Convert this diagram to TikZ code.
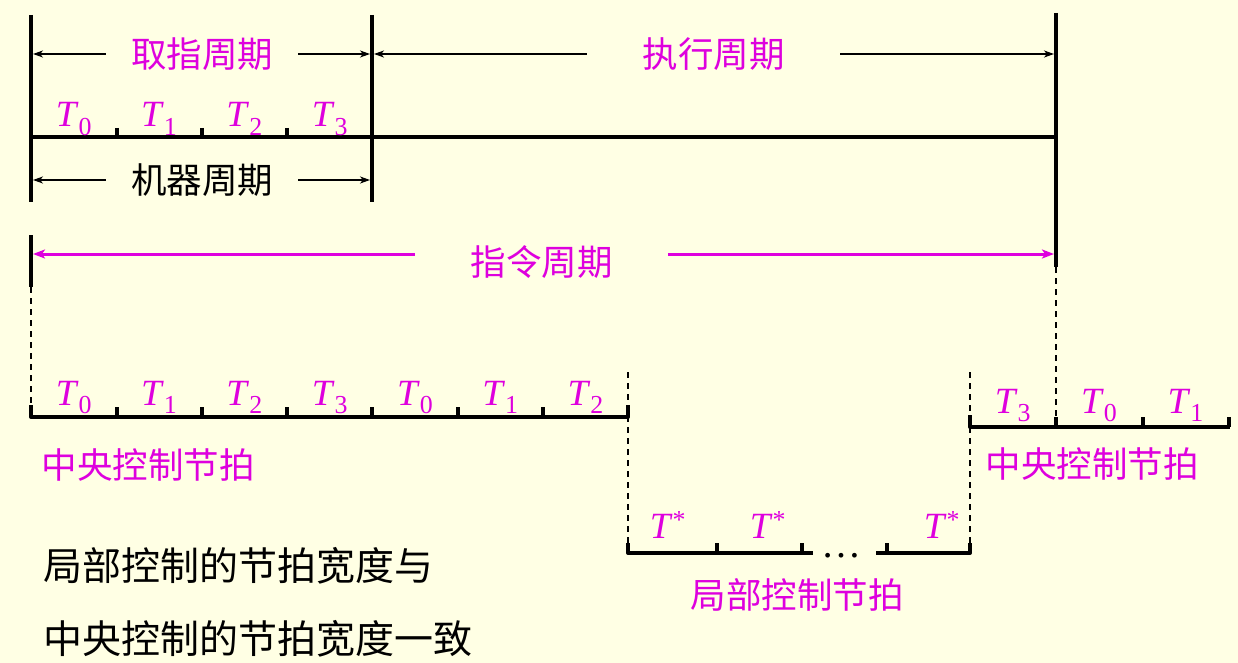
\documentclass[tikz,border=0pt]{standalone}
\usepackage{fontspec}
\setmainfont{Liberation Serif}
\newfontfamily\cjk{Noto Sans CJK SC}
\usetikzlibrary{arrows.meta}
\definecolor{bgyellow}{RGB}{255,255,228}
\definecolor{pinkm}{RGB}{222,0,222}
\newcommand{\Tn}[1]{\textit{T}\textsubscript{#1}}
\newcommand{\Ts}{\textit{T}\textsuperscript{*}}
\begin{document}
\begin{tikzpicture}[x=1pt,y=-1pt,line join=round,
		bar/.style={line width=4pt},
		axis/.style={line width=4pt},
		tick/.style={line width=3.2pt},
		guide/.style={line width=1.4pt,dash pattern=on 6pt off 5pt},
		arr/.style={-{Stealth[length=10pt,width=7pt,inset=3pt]},line width=2pt,shorten >=2pt},
		marr/.style={-{Stealth[length=12pt,width=9pt,inset=3pt]},line width=3pt,draw=pinkm,shorten >=2pt},
		tlab/.style={text=pinkm,font=\fontsize{37}{37}\selectfont,anchor=base,inner sep=0pt},
		clab/.style={text=pinkm,font=\cjk\fontsize{35.5}{36}\selectfont,inner sep=0pt},
		note/.style={font=\cjk\fontsize{39}{40}\selectfont,anchor=west,inner sep=0pt}]
				\fill[bgyellow] (0,0) rectangle (1238,663);
				\useasboundingbox (0,0) rectangle (1238,663);
				\def\ya{137}\def\yb{417}\def\yc{427}\def\yd{553}
				\coordinate (L) at (31,\ya); \coordinate (M) at (372,\ya); \coordinate (R) at (1056,\ya);
				\coordinate (iL) at (31,254); \coordinate (iR) at (1056,254);
				\coordinate (cA) at (31,\yb); \coordinate (cB) at (628,\yb);
				\coordinate (kA) at (628,\yd); \coordinate (kB) at (970,\yd);
				\coordinate (dA) at (970,\yc); \coordinate (dB) at (1230,\yc);
				% instruction cycle
				\draw[bar] (31,15)--(31,202) (31,235)--(iL)--(31,287);
				\draw[bar] (372,15)--(372,202);
				\draw[bar] (1056,13)--(iR)--(1056,267);
				\draw[axis] (L)--(R);
				\foreach \x in {117,202,287}\draw[tick] (\x,128)--(\x,\ya);
				\foreach \i/\t in {0/0,1/1,2/2,3/3}\node[tlab] (ta\i) at (74+85.3*\i,127) {\Tn{\t}};
				\node[clab,minimum width=192pt] (qz) at (202,54) {取指周期};
				\draw[arr] (qz.west)--(qz.west -| L); \draw[arr] (qz.east)--(qz.east -| M);
				\node[clab,minimum width=253pt] (zx) at (713.5,54) {执行周期};
				\draw[arr] (zx.west)--(zx.west -| M); \draw[arr] (zx.east)--(zx.east -| R);
				\node[clab,text=black,minimum width=192pt] (jq) at (202,180) {机器周期};
				\draw[arr] (jq.west)--(jq.west -| L); \draw[arr] (jq.east)--(jq.east -| M);
				\node[clab,minimum width=253pt] (zl) at (541.5,262) {指令周期};
				\draw[marr] (zl.west |- iL)--(iL); \draw[marr] (zl.east |- iR)--(iR);
				% central and local beats
				\draw[guide] (31,287)--(31,405);
				\draw[axis] (31,405)--(cA)--(cB)--(628,405);
				\foreach \x in {117,202,287,372,458,543}\draw[tick] (\x,407)--(\x,\yb);
				\foreach \i/\t in {0/0,1/1,2/2,3/3,4/0,5/1,6/2}\node[tlab] (tb\i) at (74+85.3*\i,405) {\Tn{\t}};
				\draw[guide] (628,372)--(628,543);
				\draw[guide] (970,372)--(970,543);
				\draw[axis] (628,543)--(kA)--(813,\yd) (876,\yd)--(kB)--(970,543);
				\foreach \x in {717,802,887}\draw[tick] (\x,543)--(\x,\yd);
				\node[anchor=base,inner sep=0pt,font=\fontsize{40}{40}\selectfont] (dots) at (841,557) {\ldots};
				\foreach \i/\x in {0/668,1/768,2/942}\node[tlab] (ts\i) at (\x,538) {\Ts};
				\draw[guide] (1056,267)--(1056,417);
				\draw[axis] (970,415)--(dA)--(dB);
				\foreach \x in {1056,1143,1229}\draw[tick] (\x,417)--(\x,\yc);
				\foreach \i/\t in {0/3,1/0,2/1}\node[tlab] (tc\i) at (1013+86.3*\i,413) {\Tn{\t}};
				\node[clab] (zy1) at (148,465) {中央控制节拍};
				\node[clab] (zy2) at (1092,464) {中央控制节拍};
				\node[clab] (jb) at (797,595) {局部控制节拍};
				\node[note] (n1) at (43,566) {局部控制的节拍宽度与};
				\node[note] (n2) at (43,639) {中央控制的节拍宽度一致};
		\end{tikzpicture}
\end{document}
